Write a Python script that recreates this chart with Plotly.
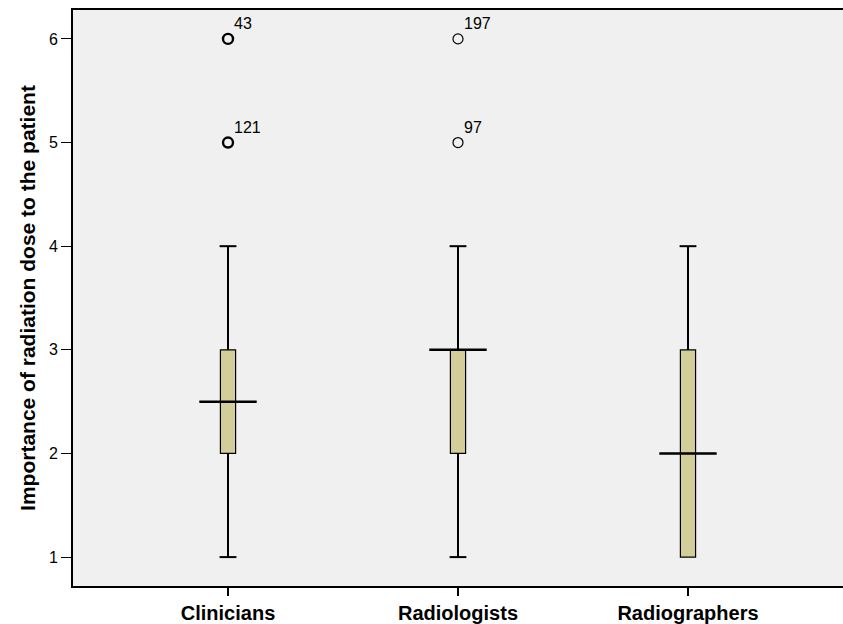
import plotly.graph_objects as go

categories = ["Clinicians", "Radiologists", "Radiographers"]
q1 = [2, 2, 1]
median = [2.5, 3, 2]
q3 = [3, 3, 3]
whisker_low = [1, 1, 1]
whisker_high = [4, 4, 4]
outlier_cat = [0, 0, 1, 1]
outlier_val = [6, 5, 6, 5]
outlier_lab = ["43", "121", "197", "97"]
outlier_bold = [True, True, False, False]

xs = list(range(len(categories)))
fig = go.Figure()

# boxes
fig.add_trace(go.Bar(x=xs, y=[b - a for a, b in zip(q1, q3)], base=q1, width=0.066,
                     marker=dict(color="#D3CE99", line=dict(color="black", width=1.2)),
                     hoverinfo="skip"))

# whiskers
wx, wy = [], []
for i in xs:
    if whisker_low[i] < q1[i]:
        wx += [i, i, None]; wy += [whisker_low[i], q1[i], None]
    if whisker_high[i] > q3[i]:
        wx += [i, i, None]; wy += [q3[i], whisker_high[i], None]
fig.add_trace(go.Scatter(x=wx, y=wy, mode="lines", line=dict(color="black", width=2),
                         hoverinfo="skip"))

# caps
cx, cy = [], []
for i in xs:
    if whisker_low[i] < q1[i]:
        cx.append(i); cy.append(whisker_low[i])
    if whisker_high[i] > q3[i]:
        cx.append(i); cy.append(whisker_high[i])
fig.add_trace(go.Scatter(x=cx, y=cy, mode="markers",
                         marker=dict(symbol="line-ew", size=12, line=dict(color="black", width=2)),
                         hoverinfo="skip"))

# medians
fig.add_trace(go.Scatter(x=xs, y=median, mode="markers",
                         marker=dict(symbol="line-ew", size=41, line=dict(color="black", width=2.5)),
                         hoverinfo="skip"))

# outliers
for bold in (True, False):
    ox = [c for c, b in zip(outlier_cat, outlier_bold) if b == bold]
    oy = [v for v, b in zip(outlier_val, outlier_bold) if b == bold]
    fig.add_trace(go.Scatter(x=ox, y=oy, mode="markers",
                             marker=dict(symbol="circle-open", size=10, color="black",
                                         line=dict(color="black", width=2.4 if bold else 1.2)),
                             hoverinfo="skip"))

for c, v, t in zip(outlier_cat, outlier_val, outlier_lab):
    fig.add_annotation(x=c, y=v, text=t, showarrow=False, xanchor="left", yanchor="bottom",
                       xshift=4, yshift=5, font=dict(size=16, color="black", family="Liberation Sans"))

fig.update_layout(
    width=843, height=624,
    margin=dict(l=73, r=0, t=10, b=36),
    paper_bgcolor="white", plot_bgcolor="#F0F0F0",
    showlegend=False,
    font=dict(family="Liberation Sans", color="black", size=16),
    xaxis=dict(range=[-0.674, 2.674], tickvals=xs,
               ticktext=["<b>%s</b>" % c for c in categories],
               tickfont=dict(size=20), showgrid=False, zeroline=False,
               showline=True, linecolor="black", linewidth=2, mirror=True,
               ticks="outside", ticklen=8, tickwidth=2, tickcolor="black"),
    yaxis=dict(range=[0.721, 6.279], tickvals=[1, 2, 3, 4, 5, 6],
               showgrid=False, zeroline=False, tickfont=dict(size=16),
               showline=True, linecolor="black", linewidth=2,
               ticks="outside", ticklen=10, tickwidth=1, tickcolor="black",
               title=dict(text="<b>Importance of radiation dose to the patient</b>",
                          font=dict(size=21), standoff=8)),
)

fig.write_html("out.html", config={"displayModeBar": False},
               post_script="document.body.style.margin='0';document.body.style.overflow='hidden';")
